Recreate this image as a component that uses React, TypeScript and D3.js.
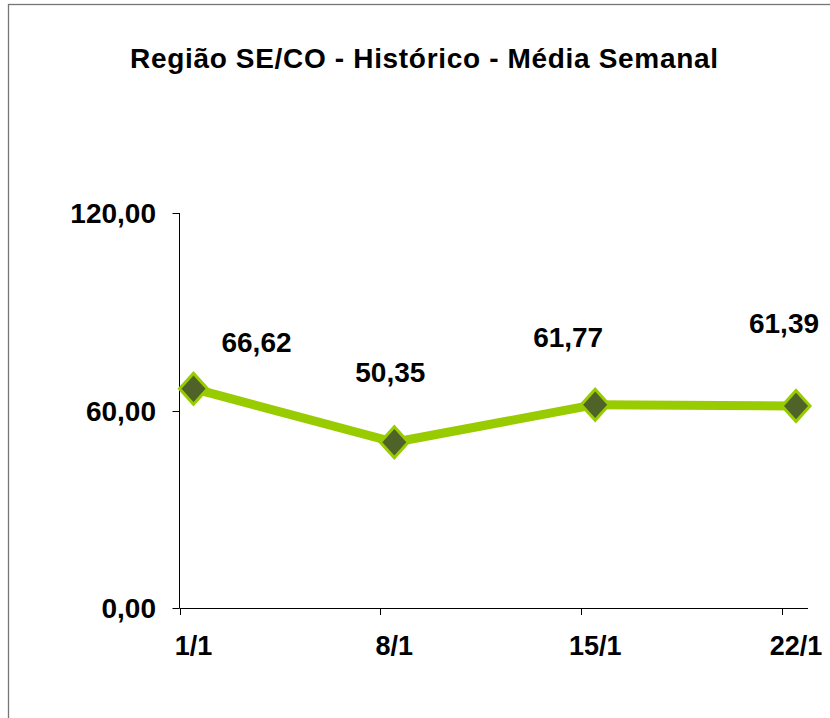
import React, { useEffect, useRef } from "react";
import * as d3 from "d3";

const categories = ["1/1", "8/1", "15/1", "22/1"];
const values = [66.62, 50.35, 61.77, 61.39];
const yTicks = [0, 60, 120];
// label offsets relative to each point (dx, dy), hand placed like the original
const labelDx = [63, -4, -27, -12];
const labelDy = [-37, -60, -58, -73];

const fmt = (v: number) => v.toFixed(2).replace(".", ",");

const App: React.FC = () => {
  const svgRef = useRef<SVGSVGElement>(null);

  useEffect(() => {
    if (!svgRef.current) return;
    const svg = d3.select(svgRef.current);
    svg.selectAll("*").remove();

    const width = 830;
    const height = 718;
    const font = "'Liberation Sans', Arial, sans-serif";

    // Outer chart border (only left/top visible)
    svg
      .append("rect")
      .attr("x", 8.5)
      .attr("y", 4.5)
      .attr("width", 900)
      .attr("height", 800)
      .attr("fill", "#fff")
      .attr("stroke", "#767676")
      .attr("stroke-width", 1.3);

    // Title
    svg
      .append("text")
      .attr("x", 424)
      .attr("y", 68)
      .attr("text-anchor", "middle")
      .attr("font-family", font)
      .attr("font-weight", "bold")
      .attr("font-size", 28)
      .attr("textLength", 588)
      .text("Região SE/CO - Histórico - Média Semanal");

    // Scales
    const xScale = d3
      .scalePoint<string>()
      .domain(categories)
      .range([193.5, 796]);

    const yScale = d3.scaleLinear().domain([0, 120]).range([608, 213]);

    const axisLeftX = 179.5;
    const tickShift = -14;

    // y axis
    const yAxis = svg.append("g");
    yAxis
      .append("line")
      .attr("x1", axisLeftX)
      .attr("x2", axisLeftX)
      .attr("y1", yScale(120))
      .attr("y2", yScale(0))
      .attr("stroke", "#000");
    yAxis
      .selectAll(".ytick")
      .data(yTicks)
      .enter()
      .append("line")
      .attr("x1", axisLeftX - 7)
      .attr("x2", axisLeftX)
      .attr("y1", (d) => Math.round(yScale(d)) + 0.5)
      .attr("y2", (d) => Math.round(yScale(d)) + 0.5)
      .attr("stroke", "#000");
    yAxis
      .selectAll(".ylabel")
      .data(yTicks)
      .enter()
      .append("text")
      .attr("x", 156)
      .attr("y", (d) => yScale(d))
      .attr("dy", "0.37em")
      .attr("text-anchor", "end")
      .attr("font-family", font)
      .attr("font-weight", "bold")
      .attr("font-size", 28)
      .text((d) => fmt(d));

    // x axis
    const xAxis = svg.append("g");
    xAxis
      .append("line")
      .attr("x1", axisLeftX)
      .attr("x2", 808)
      .attr("y1", yScale(0) + 0.5)
      .attr("y2", yScale(0) + 0.5)
      .attr("stroke", "#000");
    xAxis
      .selectAll(".xtick")
      .data(categories)
      .enter()
      .append("line")
      .attr("x1", (d) => Math.round(xScale(d)! + tickShift) + 0.5)
      .attr("x2", (d) => Math.round(xScale(d)! + tickShift) + 0.5)
      .attr("y1", yScale(0))
      .attr("y2", yScale(0) + 7)
      .attr("stroke", "#000");
    xAxis
      .selectAll(".xlabel")
      .data(categories)
      .enter()
      .append("text")
      .attr("x", (d) => xScale(d)!)
      .attr("y", 655)
      .attr("text-anchor", "middle")
      .attr("font-family", font)
      .attr("font-weight", "bold")
      .attr("font-size", 27)
      .text((d) => d);

    // Line
    const line = d3
      .line<number>()
      .x((_, i) => xScale(categories[i])!)
      .y((d) => yScale(d));

    svg
      .append("path")
      .datum(values)
      .attr("d", line)
      .attr("fill", "none")
      .attr("stroke", "#99cc00")
      .attr("stroke-width", 9)
      .attr("stroke-linejoin", "round");

    // Diamond markers
    const hw = 14;
    const hh = 15.5;
    svg
      .selectAll(".marker")
      .data(values)
      .enter()
      .append("path")
      .attr("class", "marker")
      .attr("transform", (d, i) => `translate(${xScale(categories[i])},${yScale(d)})`)
      .attr("d", `M0,${-hh}L${hw},0L0,${hh}L${-hw},0Z`)
      .attr("fill", "#4f6228")
      .attr("stroke", "#99cc00")
      .attr("stroke-width", 3)
      .attr("stroke-linejoin", "miter");

    // Data labels
    svg
      .selectAll(".dlabel")
      .data(values)
      .enter()
      .append("text")
      .attr("x", (d, i) => xScale(categories[i])! + labelDx[i])
      .attr("y", (d, i) => yScale(d) + labelDy[i])
      .attr("text-anchor", "middle")
      .attr("font-family", font)
      .attr("font-weight", "bold")
      .attr("font-size", 28)
      .text((d) => fmt(d));

    svg.attr("width", width).attr("height", height);
  }, []);

  return (
    <svg
      ref={svgRef}
      width={830}
      height={718}
      style={{ position: "absolute", left: 0, top: 0, display: "block" }}
    ></svg>
  );
};

export default App;
